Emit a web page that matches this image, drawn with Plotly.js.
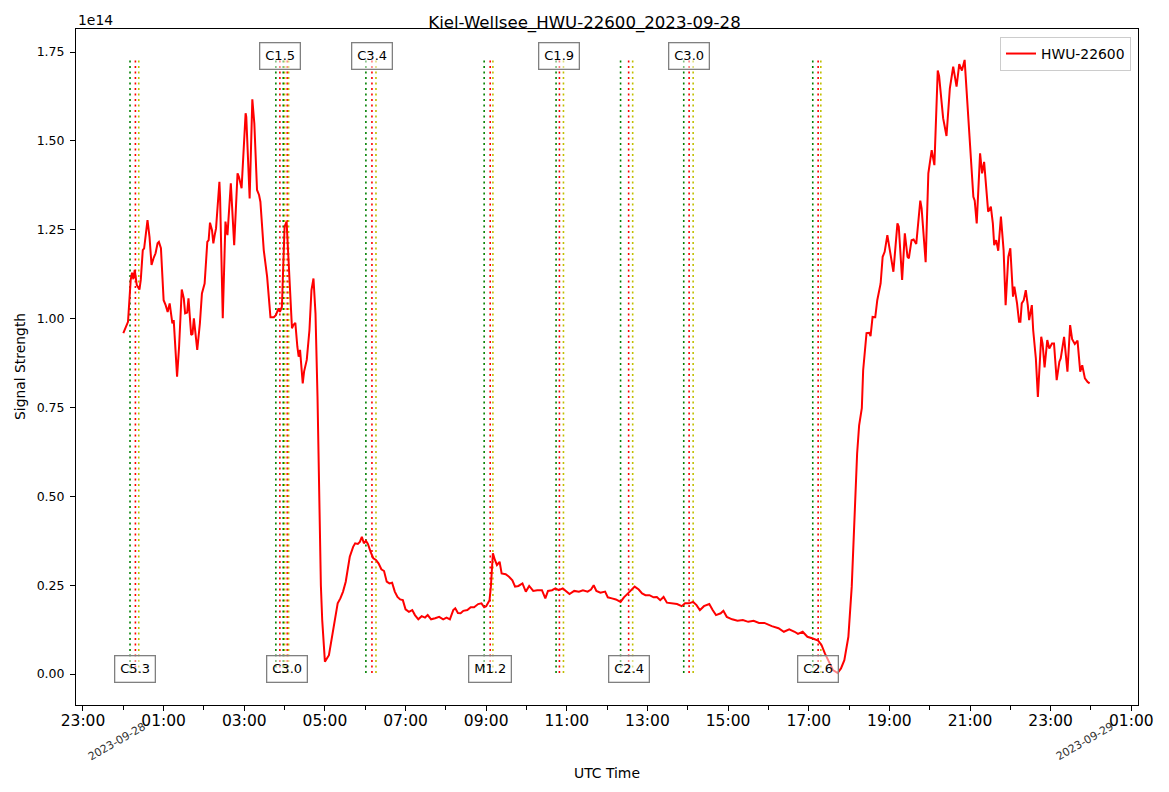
<!DOCTYPE html>
<html>
<head>
<meta charset="utf-8">
<script src="https://cdn.plot.ly/plotly-3.0.1.min.js"></script>
<style>
  html, body { margin: 0; padding: 0; background: #ffffff; }
  #chart { width: 1169px; height: 792px; }
</style>
</head>
<body>
<div id="chart"></div>
<script>
// ---------------- DATA ----------------
const DAY = '2023-09-28';
const seriesName = 'HWU-22600';
const chartTitle = 'Kiel-Wellsee_HWU-22600_2023-09-28';

// minutes after 00:00 UTC on 2023-09-28
const minutesUTC = [
  0,5,7,11,13,15,17,20,24,26,29,31,36,39,42,45,48,51,53,56,
  60,63,66,69,73,75,80,83,87,90,92,95,97,101,103,105,110,114,117,121,
  125,127,129,132,134,136,138,143,144,148,152,155,160,165,170,172,176,182,183,188,
  192,195,199,202,204,209,214,219,224,227,231,233,236,238,240,243,245,248,251,253,
  256,259,261,263,267,269,273,277,280,283,286,289,292,294,296,300,306,311,315,319,
  323,327,331,335,337,342,345,349,352,355,358,361,364,368,372,376,380,384,388,392,
  396,400,404,408,412,416,420,425,430,434,439,444,449,453,458,464,470,476,481,486,
  491,494,498,502,506,512,517,522,528,533,537,540,545,547,549,550,553,556,560,563,
  569,574,579,583,588,594,599,604,610,616,623,628,632,638,643,648,654,659,664,671,
  678,684,691,696,700,704,710,717,721,727,733,740,745,751,756,761,767,772,777,783,
  789,794,799,804,809,816,824,831,836,842,848,853,858,864,872,877,882,889,893,898,
  906,914,922,930,938,946,954,965,975,983,991,999,1004,1011,1018,1026,1034,1039,1044,1050,
  1056,1063,1068,1073,1079,1084,1088,1092,1095,1099,1101,1104,1106,1110,1112,1115,1119,1122,1125,1127,
  1130,1133,1137,1141,1146,1152,1154,1159,1163,1167,1169,1173,1176,1180,1186,1188,1194,1198,1203,1207,
  1212,1214,1220,1225,1230,1235,1240,1244,1248,1252,1255,1258,1261,1265,1267,1270,1275,1278,1281,1284,
  1287,1291,1294,1296,1299,1302,1306,1310,1313,1317,1320,1324,1326,1330,1333,1335,1337,1340,1343,1346,
  1348,1352,1354,1358,1361,1366,1368,1371,1375,1378,1382,1385,1389,1393,1395,1400,1405,1409,1412,1416,
  1420,1424,1427,1431,1435,1438
];

// signal strength in units of 1e14
const signal = [
  0.959,0.982,0.991,1.109,1.129,1.111,1.137,1.095,1.082,1.109,1.193,1.198,1.277,1.230,1.151,1.170,1.184,1.212,1.216,1.198,
  1.052,1.038,1.019,1.043,0.987,0.996,0.837,0.921,1.082,1.057,1.015,1.017,1.057,0.954,0.957,1.001,0.912,0.987,1.071,1.099,
  1.216,1.221,1.270,1.249,1.212,1.235,1.254,1.385,1.343,1.001,1.273,1.235,1.381,1.207,1.409,1.399,1.367,1.578,1.568,1.338,
  1.617,1.549,1.362,1.348,1.329,1.193,1.118,1.004,1.004,1.010,1.029,1.019,1.033,1.146,1.259,1.273,1.202,1.109,0.973,0.982,
  0.988,0.921,0.893,0.912,0.818,0.851,0.884,0.968,1.080,1.113,1.015,0.780,0.433,0.250,0.152,0.035,0.053,0.110,0.143,0.199,
  0.213,0.232,0.260,0.302,0.330,0.358,0.368,0.366,0.372,0.386,0.368,0.375,0.366,0.344,0.326,0.321,0.311,0.295,0.290,0.260,
  0.255,0.257,0.232,0.217,0.210,0.208,0.182,0.175,0.180,0.166,0.154,0.163,0.159,0.166,0.154,0.157,0.161,0.154,0.159,0.154,
  0.180,0.185,0.172,0.171,0.178,0.180,0.188,0.188,0.197,0.199,0.188,0.191,0.208,0.246,0.293,0.340,0.321,0.307,0.316,0.283,
  0.281,0.274,0.264,0.246,0.248,0.255,0.232,0.248,0.234,0.236,0.236,0.213,0.234,0.236,0.241,0.236,0.241,0.234,0.225,0.234,
  0.232,0.236,0.232,0.238,0.250,0.234,0.229,0.232,0.216,0.213,0.210,0.203,0.216,0.227,0.236,0.246,0.238,0.227,0.222,0.222,
  0.216,0.217,0.208,0.217,0.201,0.199,0.197,0.191,0.199,0.199,0.203,0.194,0.180,0.191,0.197,0.180,0.166,0.171,0.178,0.161,
  0.154,0.150,0.152,0.147,0.150,0.144,0.144,0.135,0.129,0.119,0.126,0.119,0.113,0.119,0.105,0.100,0.094,0.082,0.058,0.035,
  0.011,0.003,0.016,0.039,0.105,0.246,0.433,0.620,0.700,0.748,0.855,0.930,0.959,0.960,0.951,1.005,1.004,1.052,1.085,1.099,
  1.174,1.188,1.235,1.193,1.132,1.268,1.259,1.109,1.240,1.174,1.170,1.221,1.223,1.210,1.332,1.310,1.159,1.409,1.474,1.432,
  1.698,1.683,1.564,1.514,1.648,1.709,1.653,1.716,1.698,1.728,1.643,1.549,1.465,1.343,1.332,1.268,1.465,1.409,1.441,1.362,
  1.301,1.315,1.268,1.207,1.221,1.191,1.287,1.193,1.038,1.174,1.198,1.062,1.090,1.043,0.991,0.991,1.043,1.052,1.080,1.038,
  0.996,1.038,0.968,0.888,0.780,0.949,0.930,0.863,0.940,0.916,0.930,0.930,0.827,0.879,0.888,0.949,0.851,0.982,0.942,0.929,
  0.938,0.851,0.869,0.832,0.822,0.818
];

// flares (times UTC on 2023-09-28)
const flareClass = ['C5.3','C1.5','C3.0','C3.4','M1.2','C1.9','C2.4','C3.0','C2.6'];
const flareStart = ['00:10','03:47','03:58','06:01','08:57','10:44','12:20','13:54','17:06'];
const flarePeak  = ['00:18','03:53','04:04','06:10','09:06','10:49','12:32','14:02','17:14'];
const flareEnd   = ['00:23','04:00','04:06','06:16','09:10','10:55','12:38','14:08','17:18'];
const labelSide  = ['bottom','top','bottom','top','bottom','top','bottom','top','bottom'];

const yTickVals = [0, 0.25, 0.5, 0.75, 1.0, 1.25, 1.5, 1.75];
const dateLabels = ['2023-09-28', '2023-09-29'];
const offsetText = '1e14';

// ---------------- HELPERS ----------------
function pad(n){ return String(n).padStart(2,'0'); }
function ts(m){
  let s = Math.round(m*60), d = 28;
  while (s < 0) { s += 86400; d -= 1; }
  while (s >= 86400) { s -= 86400; d += 1; }
  const hh = Math.floor(s/3600), mm = Math.floor((s%3600)/60), ss = s%60;
  return `2023-09-${pad(d)} ${pad(hh)}:${pad(mm)}:${pad(ss)}`;
}
const xs = minutesUTC.map(ts);
const vMax = Math.max(...signal);
const vMin = Math.min(...signal);
const FONT = 'DejaVu Sans, Liberation Sans, sans-serif';

// ---------------- SHAPES ----------------
const shapes = [];
const lineSets = [[flareStart,'#008000'],[flarePeak,'#ff0000'],[flareEnd,'#bfbf00']];
for (let i = 0; i < flareClass.length; i++) {
  lineSets.forEach(([arr,col]) => {
    const t = `${DAY} ${arr[i]}`;
    shapes.push({type:'line', xref:'x', yref:'y', x0:t, x1:t, y0:vMin, y1:vMax,
      layer:'below', line:{color:col, width:1.6, dash:'2px,3.5px'}});
  });
}

// ---------------- ANNOTATIONS ----------------
const annotations = [];
for (let i = 0; i < flareClass.length; i++) {
  annotations.push({
    x: `${DAY} ${flarePeak[i]}`, xref:'x',
    y: labelSide[i] === 'top' ? vMax : vMin, yref:'y',
    yshift: 4, text: flareClass[i], showarrow:false,
    font:{family:FONT, size:13, color:'#000'},
    bgcolor:'rgba(255,255,255,0.5)', bordercolor:'#808080', borderwidth:1.3, borderpad:5,
    xanchor:'center', yanchor:'middle'
  });
}
dateLabels.forEach(d => {
  annotations.push({
    x: `${d} 00:00`, xref:'x', y:-0.0545, yref:'paper', xshift:-6,
    text:d, showarrow:false, textangle:-30, width:80,
    font:{family:FONT, size:11, color:'#333333'}, xanchor:'center', yanchor:'middle'
  });
});
annotations.push({x:0, xref:'paper', y:1.0133, yref:'paper', text:offsetText, showarrow:false,
  xanchor:'left', yanchor:'middle', font:{family:FONT, size:13.9, color:'#000'}});
annotations.push({x:-0.0527, xref:'paper', y:0.5, yref:'paper', text:'Signal Strength', showarrow:false,
  textangle:-90, xanchor:'center', yanchor:'middle', font:{family:FONT, size:13.9, color:'#000'}});
annotations.push({x:0.5, xref:'paper', y:-0.1006, yref:'paper', text:'UTC Time', showarrow:false,
  xanchor:'center', yanchor:'middle', font:{family:FONT, size:13.9, color:'#000'}});

// ---------------- PLOT ----------------
const trace = {
  x: xs, y: signal, type:'scatter', mode:'lines', name: seriesName,
  line:{color:'#ff0000', width:2}
};

const layout = {
  width:1169, height:792,
  margin:{l:76, r:31, t:29, b:87},
  paper_bgcolor:'#ffffff', plot_bgcolor:'#ffffff',
  font:{family:FONT, color:'#000'},
  title:{text:chartTitle, x:0.5, xref:'container', y:1-22/792, yref:'container',
         xanchor:'center', yanchor:'middle', font:{family:FONT, size:16.6, color:'#000'}},
  showlegend:true,
  legend:{x:1-7/1062, xanchor:'right', y:1-8/676, yanchor:'top',
          bgcolor:'rgba(255,255,255,0.8)', bordercolor:'#cccccc', borderwidth:1,
          font:{family:FONT, size:13.9, color:'#000'}},
  xaxis:{
    type:'date', range:[ts(-70.4), ts(1510)],
    tickformat:'%H:%M', tick0:'2023-09-27 23:00:00', dtick:7200000,
    ticks:'outside', ticklen:5, tickwidth:1, tickcolor:'#000',
    ticklabelstandoff:-4,
    tickfont:{family:FONT, size:15.5, color:'#000'},
    showline:true, mirror:true, linecolor:'#000', linewidth:1,
    showgrid:false, zeroline:false,
    minor:{tick0:'2023-09-27 23:00:00', dtick:3600000, ticks:'outside', ticklen:3.5, tickwidth:1, tickcolor:'#000', showgrid:false}
  },
  yaxis:{
    range:[-0.087, 1.815], tickmode:'array', tickvals:yTickVals, tickformat:'.2f',
    ticks:'outside', ticklen:5, tickwidth:1, tickcolor:'#000',
    ticklabelstandoff:3,
    tickfont:{family:FONT, size:12.5, color:'#000'},
    showline:true, mirror:true, linecolor:'#000', linewidth:1,
    showgrid:false, zeroline:false
  },
  shapes: shapes,
  annotations: annotations
};

Plotly.newPlot('chart', [trace], layout, {displayModeBar:false, staticPlot:true});
</script>
</body>
</html>
